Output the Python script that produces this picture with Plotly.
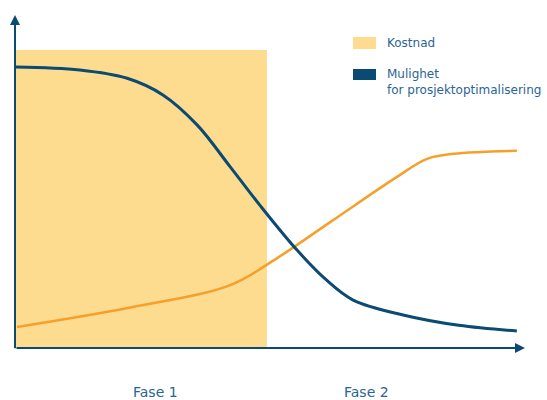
import plotly.graph_objects as go

# Data (x: time 0-100, y: level 0-100)
blue_x = [0.2, 12.7, 22.0, 29.0, 35.7, 42.2, 48.0, 55.3, 61.0, 66.3, 76.1, 87.0, 98.4]
blue_y = [84.4, 83.5, 81.0, 76.0, 67.0, 54.4, 42.9, 29.4, 20.5, 14.4, 9.9, 6.8, 5.1]
orange_x = [0.4, 23.1, 42.2, 51.4, 61.8, 74.9, 80.8, 86.0, 98.4]
orange_y = [6.3, 12.3, 18.9, 27.0, 37.8, 51.4, 56.8, 58.3, 59.2]
phase1_end = 49.4
cost_top = 89.5
phase_labels = ["Fase 1", "Fase 2"]
phase_centers = [27.5, 69.0]
legend_labels = ["Kostnad", "Mulighet<br>for prosjektoptimalisering"]

BLUE = "#0b4a72"
ORANGE = "#f6a02c"
YELLOW = "#fddc90"
TEXT = "#2a6496"

fig = go.Figure()
fig.add_trace(go.Scatter(x=orange_x, y=orange_y, mode="lines",
                         line=dict(color=ORANGE, width=2.5, shape="spline", smoothing=1.0),
                         showlegend=False, hoverinfo="skip"))
fig.add_trace(go.Scatter(x=blue_x, y=blue_y, mode="lines",
                         line=dict(color=BLUE, width=3, shape="spline", smoothing=1.0),
                         showlegend=False, hoverinfo="skip"))

fig.add_shape(type="rect", x0=0, x1=phase1_end, y0=0, y1=cost_top,
              fillcolor=YELLOW, line=dict(width=0), layer="below")

# axes with arrows
fig.add_annotation(x=100, y=0, ax=0, ay=0, xref="x", yref="y", axref="x", ayref="y",
                   showarrow=True, arrowhead=2, arrowsize=1, arrowwidth=2, arrowcolor=BLUE, text="")
fig.add_annotation(x=0, y=100, ax=0, ay=-0.5, xref="x", yref="y", axref="x", ayref="y",
                   showarrow=True, arrowhead=2, arrowsize=1, arrowwidth=2, arrowcolor=BLUE, text="")

for lab, cx in zip(phase_labels, phase_centers):
    fig.add_annotation(x=cx, y=-0.132, xref="x", yref="paper", text=lab, showarrow=False,
                       yanchor="middle",
                       font=dict(family="DejaVu Sans", size=14, color=TEXT))

# manual legend (paper coords relative to plot area)
def px(p):
    return (p - 15) / 510
def py(p):
    return (348 - p) / 333

leg_colors = [YELLOW, BLUE]
leg_boxes = [(37, 49), (69, 80)]
leg_text_y = [43, 82]
for col, (t, b), lab, ty in zip(leg_colors, leg_boxes, legend_labels, leg_text_y):
    fig.add_shape(type="rect", xref="paper", yref="paper", x0=px(353), x1=px(376),
                  y0=py(b), y1=py(t), fillcolor=col, line=dict(width=0))
    fig.add_annotation(xref="paper", yref="paper", x=px(385), y=py(ty), text=lab,
                       showarrow=False, xanchor="left", yanchor="middle", align="left",
                       font=dict(family="DejaVu Sans", size=12, color=TEXT))

fig.update_xaxes(range=[0, 100], visible=False)
fig.update_yaxes(range=[0, 100], visible=False)
fig.update_layout(width=547, height=400, margin=dict(l=15, r=22, t=15, b=52),
                  plot_bgcolor="white", paper_bgcolor="white")
fig.write_html("out.html")
